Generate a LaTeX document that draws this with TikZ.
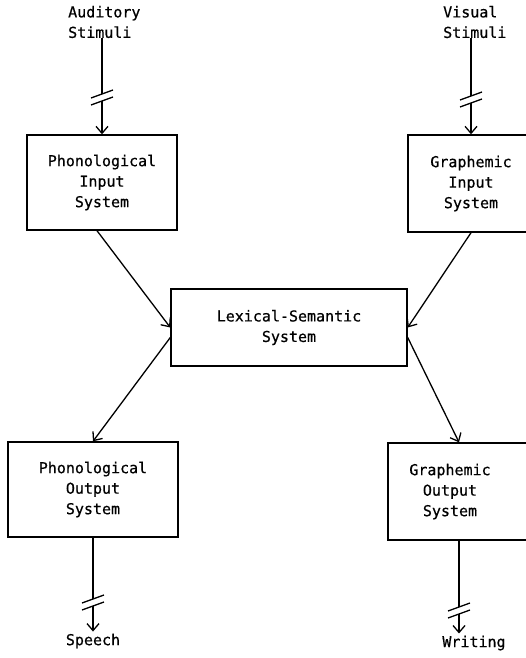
\documentclass[tikz,border=0pt]{standalone}
\usepackage{fontspec}
\setmonofont{DejaVu Sans Mono}[FakeBold=0.6]
\usetikzlibrary{arrows.meta}
\begin{document}
\begin{tikzpicture}
  [
    x=1pt, y=-1pt,
    every node/.style={
      font=\ttfamily\fontsize{15}{20.5}\selectfont,
      inner sep=0pt
    },
    unit/.style={
      draw,
      line width=1.4pt,
      align=center
    },
    link/.style={
      line width=1.3pt,
      -{Straight Barb[length=7pt,width=12pt,line width=1.3pt]}
    },
    cut/.style={
      line width=1.3pt
    }
  ]
  \useasboundingbox (0,0) rectangle (526,658);
  \clip (0,0) rectangle (526,658);

  % inputs and outputs
  \node [align=left, anchor=west] (aud) at (68,22) {Auditory\\Stimuli};
  \node [align=left, anchor=west] (vis) at (443,22) {Visual\\Stimuli};
  \node (speech) at (93,641) {Speech};
  \node (writing) at (474,643) {Writing};

  % systems
  \node [unit, minimum width=150pt, minimum height=95pt] (phin) at (102,182.5) {Phonological\\Input\\System};
  \node [unit, minimum width=126pt, minimum height=97pt] (gin) at (471,183.5) {Graphemic\\Input\\System};
  \node [unit, minimum width=236pt, minimum height=77pt] (lex) at (289,327.5) {Lexical-Semantic\\System};
  \node [unit, minimum width=170pt, minimum height=95pt] (phout) at (93,489.5) {Phonological\\Output\\System};
  \node [unit, minimum width=152pt, minimum height=97pt] (gout) at (464,491.5) {};
  \node [align=center] (goutText) at (450,491.5) {Graphemic\\Output\\System};

  % breaks
  \coordinate (audA) at (102,94);
  \coordinate (audB) at (102,101);
  \coordinate (visA) at (471,96);
  \coordinate (visB) at (471,103);
  \coordinate (spA) at (93,599);
  \coordinate (spB) at (93,606);
  \coordinate (wrA) at (459,607);
  \coordinate (wrB) at (459,614);
  \foreach \b in {audA,audB,visA,visB,spA,spB,wrA,wrB} {
    \draw [cut] ([shift={(-11,4)}]\b) -- ([shift={(11,-4)}]\b);
  }

  % routes
  \draw [cut] (phin.north |- aud.south) -- (audA);
  \draw [link] (audB) -- (phin.north);
  \draw [cut] (gin.north |- vis.south) -- (visA);
  \draw [link] (visB) -- (gin.north);
  \draw [link] ([xshift=-5pt]phin.south) -- (lex.west);
  \draw [link] (gin.south) -- (lex.east);
  \draw [link] ([yshift=-10pt]lex.west) -- (phout.north);
  \draw [link] ([yshift=-10pt]lex.east) -- ([xshift=-5pt]gout.north);
  \draw [cut] (phout.south) -- (spA);
  \draw [link, shorten >=2pt] (spB) -- (speech.north -| spB);
  \draw [cut] ([xshift=-5pt]gout.south) -- (wrA);
  \draw [link, shorten >=2pt] (wrB) -- (writing.north -| wrB);
\end{tikzpicture}
\end{document}
